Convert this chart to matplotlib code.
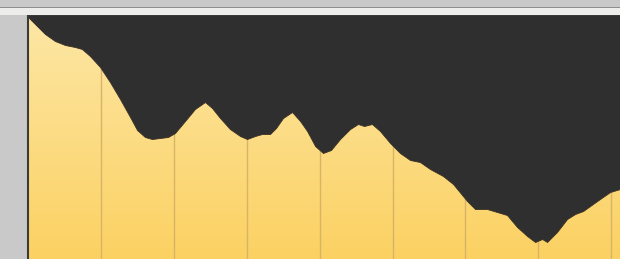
import numpy as np
import matplotlib
matplotlib.use('Agg')
import matplotlib.pyplot as plt
from matplotlib.colors import LinearSegmentedColormap
from matplotlib.patches import Rectangle

# elevation profile (distance in km, elevation in m)
distance = [0.0, 0.48, 1.17, 1.85, 2.54, 3.22, 3.70, 4.25, 4.94, 5.62,
            6.31, 7.00, 7.48, 8.02, 8.50, 9.05, 9.60, 10.08, 10.77, 11.45,
            12.14, 12.62, 13.17, 13.85, 14.54, 15.02, 15.57, 16.05, 16.60,
            17.01, 17.49, 18.11, 18.66, 19.14, 19.69, 20.23, 20.78, 21.40,
            22.09, 22.63, 23.05, 23.59, 24.14, 24.83, 25.51, 26.20, 26.88,
            27.57, 28.46, 29.15, 30.11, 30.66, 31.48, 32.17, 32.85, 33.54,
            34.23, 34.78, 35.26, 35.60, 36.28, 36.97, 37.52, 38.07, 39.03,
            39.92, 40.60]
elevation = [1210, 1175, 1125, 1090, 1070, 1060, 1050, 1015, 960, 885,
             800, 710, 645, 610, 600, 605, 610, 630, 690, 750,
             785, 755, 705, 650, 615, 600, 615, 625, 625,
             655, 705, 735, 690, 640, 565, 530, 545, 600,
             650, 675, 665, 675, 640, 580, 530, 495, 485,
             450, 415, 375, 290, 250, 250, 235, 220, 160,
             115, 85, 100, 85, 135, 200, 225, 240, 290,
             335, 350]
grid_km = [5, 10, 15, 20, 25, 30, 35, 40]

W, H = 620, 259
fig = plt.figure(figsize=(W / 100, H / 100), dpi=100)
fig.patch.set_facecolor('#c9c9c9')

# light band above the chart
fig.patches.append(Rectangle((0, 1 - 15 / H), 1, 8 / H, transform=fig.transFigure,
                             facecolor='#ededeb', edgecolor='none', zorder=0))
fig.patches.append(Rectangle((0, 1 - 8 / H), 1, 1.2 / H, transform=fig.transFigure,
                             facecolor='#8e8e8e', edgecolor='none', zorder=0))

ax = fig.add_axes([28 / W, 0, 1 - 28 / W, 1 - 15 / H])
top = 1220
ax.set_xlim(0, 40.6)
ax.set_ylim(0, top)

# yellow gradient background
cmap = LinearSegmentedColormap.from_list('sky', ['#fbd162', '#fde7a6'])
grad = np.linspace(0, 1, 256).reshape(-1, 1)
ax.imshow(grad, cmap=cmap, origin='lower', aspect='auto',
          extent=[0, 40.6, 0, top], zorder=0)

for g in grid_km:
    ax.axvline(g, color='#d9b467', lw=1.0, zorder=1)

ax.fill_between(distance, elevation, top, color='#2f2f2f', lw=0.6,
                edgecolor='#3a3026', zorder=2)

ax.set_xticks([])
ax.set_yticks([])
for s in ['right', 'bottom']:
    ax.spines[s].set_visible(False)
for s in ['left', 'top']:
    ax.spines[s].set_color('#3a3a3a')
    ax.spines[s].set_linewidth(1.5)

fig.savefig('out.png', dpi=100, facecolor=fig.get_facecolor())
